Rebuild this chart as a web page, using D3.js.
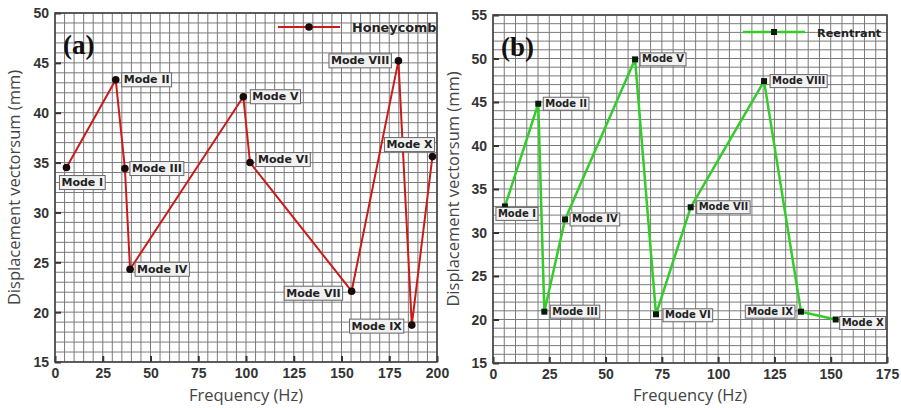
<!DOCTYPE html>
<html><head><meta charset="utf-8">
<script src="https://cdn.jsdelivr.net/npm/d3@7"></script>
<style>body{margin:0;background:#fff}svg{display:block}</style>
</head><body><svg id="c" width="901" height="408"></svg>
<script>
// ---- data ----
const modes = ["Mode I","Mode II","Mode III","Mode IV","Mode V","Mode VI","Mode VII","Mode VIII","Mode IX","Mode X"];
const honeycombFreq = [6, 31.8, 36.6, 39.3, 98.6, 102.1, 155.3, 179.8, 186.8, 197.6];
const honeycombDisp = [34.5, 43.3, 34.4, 24.3, 41.6, 35.0, 22.1, 45.2, 18.7, 35.6];
const reentrantFreq = [5.3, 20.1, 22.8, 32.0, 63.1, 72.4, 87.8, 120.4, 136.8, 152.2];
const reentrantDisp = [33.0, 44.8, 20.9, 31.5, 49.9, 20.6, 32.9, 47.4, 20.9, 20.0];
const xTicksA = [0, 25, 50, 75, 100, 125, 150, 175, 200];
const yTicksA = [15, 20, 25, 30, 35, 40, 45, 50];
const xTicksB = [0, 25, 50, 75, 100, 125, 150, 175];
const yTicksB = [15, 20, 25, 30, 35, 40, 45, 50, 55];

const svg = d3.select("#c");

function panel(cfg) {
  const x = d3.scaleLinear().domain(cfg.xDom).range([cfg.left, cfg.right]);
  const y = d3.scaleLinear().domain(cfg.yDom).range([cfg.bottom, cfg.top]);
  const g = svg.append("g");
  // grid
  g.append("g").selectAll("line").data(d3.range(cfg.xDom[0], cfg.xDom[1] + 0.01, 5)).join("line")
    .attr("x1", d => x(d)).attr("x2", d => x(d)).attr("y1", cfg.top).attr("y2", cfg.bottom)
    .attr("stroke", "#7a7a7a").attr("stroke-width", 1);
  g.append("g").selectAll("line").data(d3.range(cfg.yDom[0], cfg.yDom[1] + 0.01, 1)).join("line")
    .attr("y1", d => y(d)).attr("y2", d => y(d)).attr("x1", cfg.left).attr("x2", cfg.right)
    .attr("stroke", "#7a7a7a").attr("stroke-width", 1);
  // axes (ticks inward)
  const xa = g.append("g").attr("transform", `translate(0,${cfg.bottom})`)
    .call(d3.axisBottom(x).tickValues(cfg.xTicks).tickSize(-6).tickPadding(10).tickFormat(d3.format("d")));
  const ya = g.append("g").attr("transform", `translate(${cfg.left},0)`)
    .call(d3.axisLeft(y).tickValues(cfg.yTicks).tickSize(-6).tickPadding(6).tickFormat(d3.format("d")));
  [xa, ya].forEach(a => {
    a.select(".domain").remove();
    a.selectAll(".tick line").attr("stroke", "#333").attr("stroke-width", 2);
    a.selectAll(".tick text").attr("fill", "#333").attr("font-family", "Liberation Sans, Arial, sans-serif")
      .attr("font-weight", "bold").attr("font-size", 14);
  });
  xa.selectAll(".tick text").attr("dy", "0.45em");
  ya.selectAll(".tick text").attr("dy", "0.35em");
  // frame
  g.append("rect").attr("x", cfg.left).attr("y", cfg.top).attr("width", cfg.right - cfg.left)
    .attr("height", cfg.bottom - cfg.top).attr("fill", "none").attr("stroke", "#444").attr("stroke-width", 1.6);
  // axis titles
  g.append("text").attr("x", (cfg.left + cfg.right) / 2).attr("y", 401).attr("text-anchor", "middle")
    .attr("font-family", "Open Sans, sans-serif").attr("font-size", 16.5).attr("fill", "#444").text("Frequency (Hz)");
  g.append("text").attr("transform", `translate(${cfg.yTitleX},${(cfg.top + cfg.bottom) / 2}) rotate(-90)`)
    .attr("text-anchor", "middle").attr("font-family", "Open Sans, sans-serif").attr("font-size", 16.5)
    .attr("fill", "#444").text("Displacement vectorsum (mm)");
  // panel label
  g.append("text").attr("x", cfg.left + 8).attr("y", cfg.top + 41).attr("font-family", "Liberation Serif, Times New Roman, serif")
    .attr("font-weight", "bold").attr("font-size", 27).attr("fill", "#111").text(cfg.tag);
  // line
  const pts = cfg.freq.map((f, i) => ({f, v: cfg.disp[i], m: modes[i], p: cfg.place[i]}));
  g.append("path").datum(pts).attr("fill", "none").attr("stroke", cfg.color).attr("stroke-width", cfg.lw)
    .attr("stroke-linejoin", "round").attr("d", d3.line().x(d => x(d.f)).y(d => y(d.v)));
  // markers
  if (cfg.marker === "circle") {
    g.append("g").selectAll("circle").data(pts).join("circle").attr("cx", d => x(d.f)).attr("cy", d => y(d.v))
      .attr("r", 3.8).attr("fill", "#1a0a0a");
  } else {
    g.append("g").selectAll("rect").data(pts).join("rect").attr("x", d => x(d.f) - 3).attr("y", d => y(d.v) - 3)
      .attr("width", 6).attr("height", 6).attr("fill", "#0a1a0a");
  }
  // labels
  const lg = g.append("g");
  pts.forEach(d => {
    const px = x(d.f), py = y(d.v);
    const box = lg.append("rect");
    const t = lg.append("text").attr("font-family", "DejaVu Sans, sans-serif").attr("font-weight", "bold")
      .attr("font-size", cfg.lfs).attr("fill", "#222").text(d.m);
    const w = t.node().getComputedTextLength();
    const h = cfg.lfs + 3;
    let bx, by;
    const [kind, dx, dy] = d.p;
    if (kind === "r") { bx = px + dx; by = py - h / 2 + dy; }
    else if (kind === "l") { bx = px - dx - w - 4; by = py - h / 2 + dy; }
    else { bx = px + dx; by = py + dy; }
    box.attr("x", bx).attr("y", by).attr("width", w + 4).attr("height", h)
      .attr("fill", "#f2f2f2").attr("stroke", "#666").attr("stroke-width", 1);
    t.attr("x", bx + 2).attr("y", by + h - 3.5);
  });
  // legend
  const ly = cfg.legY;
  g.append("line").attr("x1", cfg.legX).attr("x2", cfg.legX + 62).attr("y1", ly).attr("y2", ly)
    .attr("stroke", cfg.color).attr("stroke-width", cfg.lw);
  if (cfg.marker === "circle") g.append("circle").attr("cx", cfg.legX + 31).attr("cy", ly).attr("r", 3.8).attr("fill", "#1a0a0a");
  else g.append("rect").attr("x", cfg.legX + 28).attr("y", ly - 3).attr("width", 6).attr("height", 6).attr("fill", "#0a1a0a");
  g.append("text").attr("x", cfg.legX + 74).attr("y", ly + 4.5).attr("font-family", "DejaVu Sans, sans-serif")
    .attr("font-weight", "bold").attr("font-size", cfg.legFs).attr("fill", "#222").text(cfg.name);
}

panel({
  xDom: [0, 200], yDom: [15, 50], left: 55, right: 437, top: 13, bottom: 362,
  xTicks: xTicksA, yTicks: yTicksA, freq: honeycombFreq, disp: honeycombDisp,
  color: "#cc1a1a", lw: 2, marker: "circle", tag: "(a)", name: "Honeycomb", yTitleX: 20,
  legX: 278, legY: 27, lfs: 11, legFs: 12.8,
  place: [["b", -7, 8], ["r", 6, 0], ["r", 5, 0], ["r", 5, 0], ["r", 7, 0], ["r", 6, -3], ["l", 9, 2], ["l", 7, 0], ["l", 8, 1], ["b", -48, -19]]
});
panel({
  xDom: [0, 175], yDom: [15, 55], left: 493, right: 887, top: 15, bottom: 363,
  xTicks: xTicksB, yTicks: yTicksB, freq: reentrantFreq, disp: reentrantDisp,
  color: "#33cc2a", lw: 2.5, marker: "square", tag: "(b)", name: "Reentrant", yTitleX: 459,
  legX: 743, legY: 32, lfs: 10, legFs: 11.3,
  place: [["b", -9, 1], ["r", 5, 0], ["r", 6, 0], ["r", 5, 0], ["r", 5, 0], ["r", 7, 1], ["r", 6, 0], ["r", 6, 0], ["l", 6, 0], ["b", 4, -3]]
});
</script></body></html>
